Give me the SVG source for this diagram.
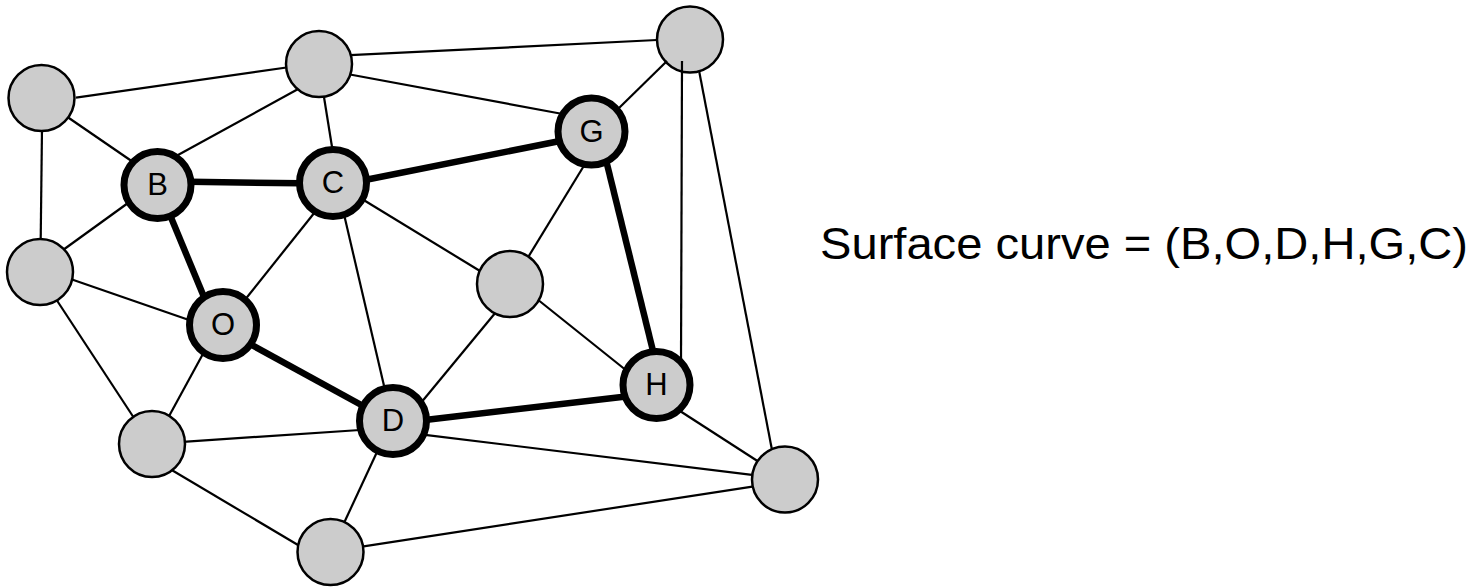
<svg xmlns="http://www.w3.org/2000/svg" width="1483" height="587" viewBox="0 0 1483 587">
<style>
.n{fill:#cccccc;stroke:#000;stroke-width:2.5}
.k{fill:#cccccc;stroke:#000;stroke-width:7}
.e{stroke:#000;stroke-width:2.2;fill:none;stroke-linecap:butt}
.t{stroke:#000;stroke-width:6.5;fill:none}
.l{font-family:"Liberation Sans",Arial,sans-serif;font-size:31px;text-anchor:middle;fill:#000}
.cap{font-family:"Liberation Sans",Arial,sans-serif;font-size:44px;fill:#000}
</style>
<rect width="1483" height="587" fill="#fff"/>
<g id="node-n3"><circle class="n" cx="690" cy="39.5" r="33"/></g>
<g id="connectors">
<line class="e" x1="76" y1="97.7" x2="290" y2="67"/>
<line class="e" x1="350" y1="55.2" x2="657" y2="40"/>
<line class="e" x1="350" y1="74.5" x2="560" y2="113.5"/>
<line class="e" x1="66" y1="116" x2="133" y2="162"/>
<line class="e" x1="42" y1="128" x2="40.7" y2="240"/>
<line class="e" x1="300" y1="88" x2="178" y2="155"/>
<line class="e" x1="323.5" y1="94" x2="332.5" y2="150"/>
<line class="e" x1="128" y1="203" x2="63" y2="250"/>
<line class="e" x1="315" y1="212" x2="244" y2="301"/>
<line class="e" x1="343" y1="210" x2="385" y2="390"/>
<line class="e" x1="362" y1="199" x2="480" y2="271"/>
<line class="e" x1="72" y1="279.5" x2="189" y2="320"/>
<line class="e" x1="619" y1="108" x2="667" y2="61"/>
<line class="e" x1="585" y1="164" x2="527" y2="259"/>
<line class="e" x1="699.3" y1="72" x2="772" y2="450"/>
<line class="e" x1="682" y1="61" x2="681" y2="365"/>
<line class="e" x1="56" y1="299" x2="134" y2="418"/>
<line class="e" x1="204" y1="352" x2="168" y2="418"/>
<line class="e" x1="183" y1="441.8" x2="360" y2="430"/>
<line class="e" x1="170" y1="469" x2="298" y2="545"/>
<line class="e" x1="377" y1="452" x2="344" y2="523"/>
<line class="e" x1="362" y1="546.7" x2="754" y2="486.3"/>
<line class="e" x1="496" y1="312" x2="420" y2="404"/>
<line class="e" x1="537" y1="299" x2="627" y2="371"/>
<line class="e" x1="425" y1="434.8" x2="754" y2="475.2"/>
<line class="e" x1="680" y1="411" x2="759" y2="462"/>
<line class="t" x1="190" y1="181.8" x2="300" y2="183.3"/>
<line class="t" x1="170" y1="215" x2="204" y2="297"/>
<line class="t" x1="365" y1="180" x2="560" y2="141"/>
<line class="t" x1="606" y1="160" x2="654" y2="355"/>
<line class="t" x1="250" y1="344" x2="365" y2="407"/>
<line class="t" x1="425" y1="420" x2="626" y2="396.5"/>
</g>
<g id="node-n1"><circle class="n" cx="41.5" cy="98" r="33"/></g>
<g id="node-n2"><circle class="n" cx="319" cy="64" r="33"/></g>
<g id="node-left"><circle class="n" cx="40" cy="272" r="33"/></g>
<g id="node-m"><circle class="n" cx="510" cy="284" r="33"/></g>
<g id="node-bl"><circle class="n" cx="152" cy="444" r="33"/></g>
<g id="node-br"><circle class="n" cx="785" cy="479.5" r="33"/></g>
<g id="node-bottom"><circle class="n" cx="330.5" cy="552" r="33"/></g>
<g id="node-b"><circle class="k" cx="157.5" cy="185" r="33.5"/><text class="l" x="157.5" y="194.5">B</text></g>
<g id="node-c"><circle class="k" cx="333" cy="183" r="33.5"/><text class="l" x="333" y="193">C</text></g>
<g id="node-g"><circle class="k" cx="591.5" cy="131.5" r="33.5"/><text class="l" x="591.5" y="141.5">G</text></g>
<g id="node-o"><circle class="k" cx="223" cy="325" r="33.5"/><text class="l" x="223" y="335">O</text></g>
<g id="node-d"><circle class="k" cx="393" cy="421" r="33.5"/><text class="l" x="393" y="431">D</text></g>
<g id="node-h"><circle class="k" cx="656.5" cy="385" r="33.5"/><text class="l" x="656.5" y="395">H</text></g>
<text class="cap" x="820" y="259" textLength="648" lengthAdjust="spacingAndGlyphs">Surface curve = (B,O,D,H,G,C)</text>
</svg>
